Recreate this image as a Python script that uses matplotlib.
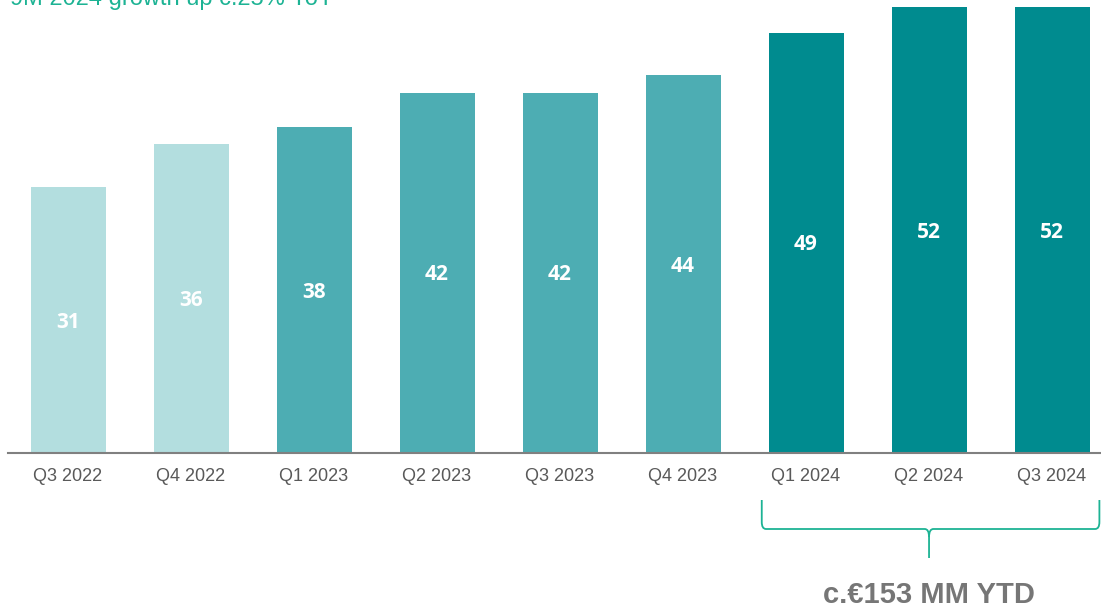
import matplotlib.pyplot as plt
from matplotlib.path import Path
from matplotlib.patches import PathPatch
import matplotlib.transforms as mtransforms

quarters = ['Q3 2022', 'Q4 2022', 'Q1 2023', 'Q2 2023', 'Q3 2023',
            'Q4 2023', 'Q1 2024', 'Q2 2024', 'Q3 2024']
values = [31, 36, 38, 42, 42, 44, 49, 52, 52]
year_group = ['2022', '2022', '2023', '2023', '2023', '2023', '2024', '2024', '2024']
colors = {'2022': '#B3DEDF', '2023': '#4DADB3', '2024': '#008B8F'}

title = '9M 2024 growth up c.25% YoY'
ytd_label = 'c.€153 MM YTD'
green = '#1DB394'

fig = plt.figure(figsize=(11.01, 6.08), dpi=100)
ax = fig.add_axes([8 / 1101, 1 - 453 / 608, 1 - 8 / 1101, 453 / 608])

x = list(range(len(quarters)))
bars = ax.bar(x, values, width=0.61, color=[colors[g] for g in year_group], zorder=2)

for xi, v in zip(x, values):
    ax.text(xi, v / 2 - 0.25, str(v), ha='center', va='center', color='white',
            fontsize=15, fontweight='bold', family=['Open Sans', 'DejaVu Sans'])

ax.set_xlim(-0.488, 8.398)
ax.set_ylim(0, 453 / 8.58)
ax.set_xticks(x)
ax.set_xticklabels(quarters, fontsize=13, color='#595959', family='Liberation Sans')
ax.tick_params(axis='x', length=0, pad=11)
ax.set_yticks([])
for s in ['top', 'right', 'left']:
    ax.spines[s].set_visible(False)
ax.spines['bottom'].set_color('#808080')
ax.spines['bottom'].set_linewidth(1.5)

# bracket under 2024 quarters (x in data, y in figure pixels from top)
trans = mtransforms.blended_transform_factory(ax.transData, fig.transFigure)
def fy(py):
    return 1 - py / 608

xl, xr = 5.64, 8.385
xm = 7.0
r = 0.035
verts = [(xl, fy(500)), (xl, fy(522)), (xl, fy(529)), (xl + r, fy(529)),
         (xm - r, fy(529)), (xm, fy(529)), (xm, fy(537)), (xm, fy(558))]
codes = [Path.MOVETO, Path.LINETO, Path.CURVE3, Path.CURVE3,
         Path.LINETO, Path.CURVE3, Path.CURVE3, Path.LINETO]
verts2 = [(xr, fy(500)), (xr, fy(522)), (xr, fy(529)), (xr - r, fy(529)),
          (xm + r, fy(529)), (xm, fy(529)), (xm, fy(537))]
codes2 = [Path.MOVETO, Path.LINETO, Path.CURVE3, Path.CURVE3,
          Path.LINETO, Path.CURVE3, Path.CURVE3]
for vv, cc in [(verts, codes), (verts2, codes2)]:
    fig.add_artist(PathPatch(Path(vv, cc), transform=trans, facecolor='none',
                             edgecolor=green, linewidth=1.3, clip_on=False))

ax.text(xm, fy(595), ytd_label, transform=trans, ha='center', va='center',
        fontsize=21, fontweight='bold', color='#767676', family='Liberation Sans')

fig.text(10 / 1101, fy(5), title, ha='left', va='baseline', fontsize=17,
         color=green, family='Liberation Sans')

fig.savefig('out.png', dpi=100)
